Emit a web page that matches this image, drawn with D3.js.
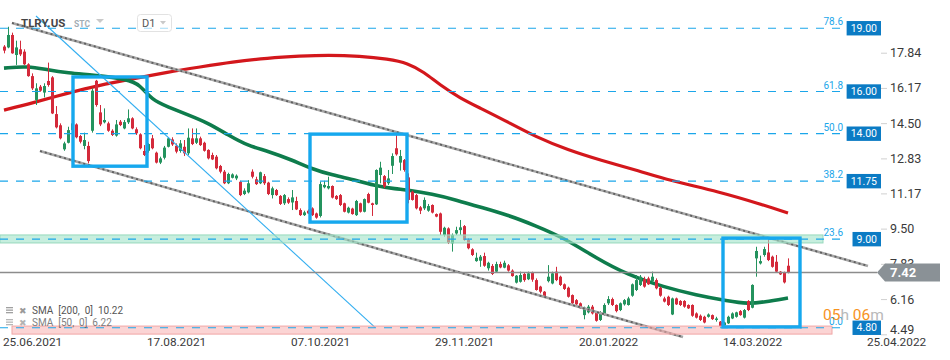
<!DOCTYPE html>
<html>
<head>
<meta charset="utf-8">
<script src="https://cdn.jsdelivr.net/npm/d3@7"></script>
<style>
  body { margin: 0; background: #fff; }
  svg { display: block; font-family: Roboto, "Noto Sans", sans-serif; }
</style>
</head>
<body>
<div class="chart"></div>
<script>
// daily candles, [open, high, low, close]
const ohlc = [
  [18.13,18.20,17.81,17.94],[18.09,19.07,18.05,18.68],[18.68,18.79,17.79,17.81],[17.73,18.41,17.26,18.09],
  [18.00,18.41,17.68,17.76],[17.89,18.00,17.26,17.29],[17.29,17.34,16.70,16.73],[16.73,16.86,16.07,16.15],
  [15.60,16.39,15.36,16.15],[16.23,16.31,15.99,16.04],[15.95,16.39,15.72,16.26],[16.50,17.37,16.23,16.31],
  [16.67,16.73,14.93,14.96],[14.93,15.31,14.25,14.30],[14.40,14.49,13.73,13.78],[13.26,13.62,13.19,13.54],
  [13.57,14.33,13.54,14.17],[14.17,14.57,14.09,14.49],[14.44,14.49,13.78,13.83],[13.89,13.94,13.54,13.62],
  [13.42,14.05,13.26,13.70],[13.42,13.62,12.59,12.70],[14.14,16.15,14.05,16.04],[16.51,16.55,15.28,15.36],
  [15.01,15.36,14.36,14.44],[14.54,15.20,14.49,14.65],[14.49,14.57,14.09,14.14],[14.14,14.21,13.89,13.94],
  [13.91,14.65,13.86,14.44],[14.57,14.65,14.36,14.41],[14.25,14.65,14.21,14.55],[14.54,15.15,14.46,14.73],
  [14.73,14.78,14.21,14.25],[14.21,14.30,13.94,14.02],[13.97,14.02,13.26,13.31],[13.18,13.46,12.94,12.99],
  [13.19,13.55,13.10,13.51],[13.78,13.94,13.26,13.31],[13.10,13.15,12.59,12.63],[12.63,12.91,12.56,12.83],
  [12.86,13.42,12.78,13.34],[13.38,13.83,13.35,13.78],[13.73,13.83,13.42,13.49],[13.43,13.54,13.07,13.15],
  [13.18,13.70,13.10,13.54],[13.38,13.70,12.94,13.07],[13.07,14.25,12.99,13.81],[13.78,14.25,13.46,13.51],
  [13.57,14.25,13.51,13.78],[13.78,13.86,13.42,13.46],[13.57,13.62,13.15,13.19],[13.23,13.26,12.78,12.83],
  [12.99,13.10,12.75,12.78],[12.91,12.99,12.31,12.36],[12.47,12.52,12.12,12.20],[12.20,12.28,11.61,11.65],
  [11.65,12.15,11.61,12.09],[11.91,12.12,11.88,12.07],[11.88,12.07,11.80,12.01],[11.72,11.77,11.04,11.09],
  [11.14,11.41,11.09,11.30],[11.22,11.80,11.17,11.65],[12.20,12.31,11.88,11.96],[11.84,11.96,11.57,11.61],
  [11.65,12.20,11.61,12.17],[11.99,12.09,11.57,11.65],[11.68,11.72,11.09,11.14],[11.09,11.49,10.93,11.41],
  [11.33,11.38,11.05,11.09],[11.05,11.09,10.62,10.67],[10.70,11.14,10.62,11.09],[10.90,10.98,10.67,10.73],
  [10.74,11.33,10.38,10.98],[10.81,11.01,10.38,10.41],[10.38,10.46,10.10,10.14],[10.14,10.35,10.10,10.27],
  [10.35,10.41,10.19,10.22],[10.46,10.51,10.10,10.14],[10.22,10.26,9.97,10.02],[10.10,11.73,10.03,11.61],
  [11.46,11.77,11.41,11.57],[11.41,11.96,11.36,11.52],[11.52,11.55,10.93,10.97],[11.05,11.09,10.86,10.90],
  [11.09,11.14,10.57,10.62],[10.70,10.73,10.27,10.30],[10.26,10.54,10.22,10.49],[10.45,10.49,10.16,10.19],
  [10.14,10.86,10.10,10.81],[10.70,10.73,10.26,10.30],[10.30,10.93,10.27,10.90],[11.14,11.20,10.70,10.73],
  [10.70,10.73,10.10,10.62],[10.65,12.31,10.62,12.28],[12.04,12.67,11.65,12.39],[11.99,12.04,11.41,11.49],
  [11.65,12.28,11.57,11.88],[12.48,13.07,12.09,12.94],[13.31,13.94,12.96,13.02],[12.63,13.23,12.25,12.94],
  [12.75,12.80,12.20,12.28],[11.93,12.12,10.70,10.86],[11.25,11.30,10.83,10.86],[11.09,11.14,10.41,10.46],
  [10.51,10.57,10.19,10.35],[10.46,10.98,10.38,10.86],[10.35,10.67,10.30,10.57],[10.62,10.65,10.22,10.26],
  [10.19,10.22,10.04,10.07],[10.22,10.26,9.20,9.35],[9.20,9.59,9.12,9.54],[9.51,9.56,8.77,8.83],
  [8.80,9.27,8.41,9.20],[9.27,9.59,9.20,9.43],[9.43,9.91,9.20,9.56],[9.62,9.67,8.93,8.96],
  [8.96,9.04,8.52,8.57],[8.52,8.57,8.20,8.25],[7.96,8.36,7.93,8.12],[7.98,8.25,7.69,8.17],
  [8.20,8.36,7.69,7.74],[7.62,7.93,7.51,7.88],[7.73,7.82,7.30,7.35],[7.46,7.93,7.41,7.82],
  [7.82,7.93,7.62,7.66],[7.65,7.98,7.62,7.88],[7.76,7.82,7.46,7.51],[7.51,7.57,7.22,7.25],
  [6.94,7.30,6.90,7.27],[6.98,7.46,6.94,7.30],[7.35,7.41,6.98,7.06],[7.10,7.46,7.06,7.38],
  [7.40,7.46,6.98,7.08],[7.06,7.14,6.56,6.59],[6.75,6.79,6.43,6.51],[6.51,6.54,6.27,6.30],
  [7.01,7.77,6.95,7.22],[6.90,7.46,6.86,7.38],[7.46,7.69,7.01,7.06],[7.22,7.27,6.78,6.83],
  [6.86,6.90,6.59,6.64],[6.70,6.75,6.23,6.27],[6.35,6.38,5.91,5.96],[6.11,6.16,5.88,5.91],
  [5.96,6.00,5.69,5.72],[5.40,5.80,5.20,5.75],[5.53,5.88,5.48,5.80],[5.80,5.88,5.43,5.48],
  [5.53,5.59,5.09,5.13],[5.17,5.59,5.12,5.53],[5.43,5.96,5.37,5.88],[5.96,6.30,5.88,6.16],
  [6.16,6.23,5.83,5.88],[5.88,5.91,5.53,5.59],[5.64,6.00,5.59,5.96],[5.91,6.16,5.85,6.11],
  [5.88,6.27,5.85,6.19],[6.32,6.90,6.27,6.86],[6.59,7.30,6.54,7.06],[6.83,7.30,6.78,7.22],
  [7.11,7.22,6.70,6.75],[7.14,7.22,6.83,6.86],[7.01,7.46,6.95,7.22],[7.06,7.14,6.62,6.67],
  [6.70,6.75,6.27,6.32],[6.19,6.27,6.00,6.04],[6.27,6.32,5.83,5.88],[5.43,6.23,5.40,6.19],
  [6.19,6.23,5.88,5.91],[6.07,6.11,5.83,5.88],[6.07,6.11,5.75,5.80],[5.88,5.91,5.69,5.72],
  [5.88,5.91,5.32,5.37],[5.48,5.53,5.24,5.28],[5.37,5.43,5.12,5.17],[5.32,5.37,5.01,5.05],
  [5.32,5.48,5.28,5.43],[5.40,5.43,5.17,5.21],[5.17,5.32,5.09,5.24],[5.09,5.12,4.85,4.88],
  [4.90,5.09,4.85,5.05],[5.01,5.37,4.98,5.32],[5.24,5.53,5.21,5.48],[5.32,5.56,5.28,5.53],
  [5.59,5.64,5.37,5.40],[5.28,5.69,5.24,5.64],[6.07,6.11,5.59,5.64],[5.75,6.86,5.72,6.83],
  [8.09,8.64,7.22,8.44],[7.85,8.22,7.80,7.96],[8.25,8.64,8.17,8.53],[8.37,8.96,7.96,8.01],
  [8.17,8.22,7.65,7.69],[7.93,8.25,7.43,7.46],[7.46,7.49,7.30,7.33],[7.43,7.46,6.90,6.95],
  [7.74,8.09,7.38,7.42]
];

// moving averages: [bar index, value]
const sma50 = [
  [0,17.11],[6,17.21],[11,17.02],[16,16.88],[22,16.78],[31,16.59],[34,16.31],[37,15.60],
  [41,15.27],[46,14.89],[51,14.51],[56,13.94],[61,13.42],[66,13.18],[72,12.75],[77,12.33],
  [82,12.04],[88,11.80],[93,11.52],[98,11.38],[101,11.33],[107,11.14],[113,10.86],[118,10.57],
  [126,10.15],[133,9.63],[140,9.06],[148,8.11],[156,7.30],[165,6.73],[173,6.35],[181,6.07],
  [186,5.93],[190,6.02],[196,6.21]
];
const sma200 = [
  [0,15.12],[7,15.45],[16,15.93],[24,16.31],[32,16.59],[41,16.92],[49,17.16],[57,17.40],
  [66,17.59],[74,17.68],[81,17.73],[89,17.68],[96,17.54],[101,17.35],[105,16.92],[109,16.31],
  [114,15.69],[119,15.22],[125,14.65],[133,13.84],[141,13.23],[149,12.75],[159,12.23],[166,11.80],
  [179,11.24],[189,10.67],[196,10.24]
];

// fibonacci retracement
const fibRatios = ["78.6", "61.8", "50.0", "38.2", "23.6", "0.0"];
const fibPrices = [19.00, 16.00, 14.00, 11.75, 9.00, 4.80];

// axes
const yTicks = [4.49, 6.16, 7.83, 9.50, 11.17, 12.83, 14.50, 16.17, 17.84];
const xTickIdx = [7, 43, 79, 115, 151, 187, 223];
const xTickLabels = ["25.06.2021", "17.08.2021", "07.10.2021", "29.11.2021", "20.01.2022", "14.03.2022", "25.04.2022"];

// drawings: bar index / price
const trendLines = [
  { x1: 2, p1: 19.25, x2: 216, p2: 7.73 },
  { x1: 9, p1: 13.18, x2: 169.75, p2: 4.36 }
];
const steepLine = { x1: 8, p1: 19.58, x2: 92.75, p2: 4.82 };
const boxes = [
  { x1: 17.25, x2: 35.75, hi: 16.69, lo: 12.46 },
  { x1: 76.5, x2: 100.75, hi: 13.98, lo: 9.81 },
  { x1: 179.75, x2: 199, hi: 9.05, lo: 4.84 }
];
const zones = [
  { x1: -1, x2: 204.75, hi: 9.20, lo: 8.82, fill: "rgba(160,226,200,0.6)", stroke: "#98d9bd" },
  { x1: 2, x2: 207, hi: 4.88, lo: 4.50, fill: "rgba(247,176,176,0.55)", stroke: "#f0a6a6" }
];
const lastPrice = 7.42;
const legendRows = ["SMA  [200,  0]  10.22", "SMA  [50,  0]  6.22"];

const width = 950, height = 360;
const svg = d3.select(".chart").append("svg")
  .attr("width", width).attr("height", height);

const x = d3.scaleLinear().domain([0, 196]).range([4, 788]);
const y = d3.scaleLinear().domain([4.49, 17.84]).range([334.3, 52.7]);

const green = "#24935e", red = "#d42a3b", fibBlue = "#1ba6ea";

// sma lines
const line = d3.line().x(d => x(d[0])).y(d => y(d[1])).curve(d3.curveBasis);
svg.append("path").datum(sma200).attr("d", line)
  .attr("fill", "none").attr("stroke", "#d3171c").attr("stroke-width", 3.2);
svg.append("path").datum(sma50).attr("d", line)
  .attr("fill", "none").attr("stroke", "#0e7c4c").attr("stroke-width", 3.6);

// candles
const candle = svg.append("g").selectAll("g").data(ohlc).join("g");
candle.append("line")
  .attr("x1", (d, i) => Math.round(x(i)) + 0.5).attr("x2", (d, i) => Math.round(x(i)) + 0.5)
  .attr("y1", d => y(d[1])).attr("y2", d => y(d[2]))
  .attr("stroke", d => d[3] >= d[0] ? green : red).attr("stroke-width", 1);
candle.append("rect")
  .attr("x", (d, i) => Math.round(x(i)) - 1)
  .attr("width", 3)
  .attr("y", d => y(Math.max(d[0], d[3])))
  .attr("height", d => Math.max(1, Math.abs(y(d[0]) - y(d[3]))))
  .attr("fill", d => d[3] >= d[0] ? green : red);

// trend channel
trendLines.forEach(t => {
  svg.append("line").attr("x1", x(t.x1)).attr("y1", y(t.p1)).attr("x2", x(t.x2)).attr("y2", y(t.p2))
    .attr("stroke", "#a6a6a6").attr("stroke-width", 2.6);
  svg.append("line").attr("x1", x(t.x1)).attr("y1", y(t.p1)).attr("x2", x(t.x2)).attr("y2", y(t.p2))
    .attr("stroke", "#5e5e5e").attr("stroke-width", 1.8).attr("stroke-dasharray", "2,3");
});
svg.append("line")
  .attr("x1", x(steepLine.x1)).attr("y1", y(steepLine.p1))
  .attr("x2", x(steepLine.x2)).attr("y2", y(steepLine.p2))
  .attr("stroke", "#33aef0").attr("stroke-width", 1.1);

// zones
zones.forEach(z => {
  svg.append("rect")
    .attr("x", x(z.x1)).attr("width", x(z.x2) - x(z.x1))
    .attr("y", y(z.hi)).attr("height", y(z.lo) - y(z.hi))
    .attr("fill", z.fill).attr("stroke", z.stroke).attr("stroke-width", 1);
});

// last price line
svg.append("line").attr("x1", 0).attr("x2", 877)
  .attr("y1", y(lastPrice)).attr("y2", y(lastPrice))
  .attr("stroke", "#8c8c8c").attr("stroke-width", 1.3);

// fib levels
const fibG = svg.append("g");
fibPrices.forEach((p, i) => {
  fibG.append("line").attr("x1", 0).attr("x2", 843)
    .attr("y1", y(p)).attr("y2", y(p))
    .attr("stroke", fibBlue).attr("stroke-width", 1.2).attr("stroke-dasharray", "8,8");
  fibG.append("text").attr("x", 843).attr("y", y(p) - 3)
    .attr("text-anchor", "end").attr("font-size", "10px").attr("fill", fibBlue)
    .text(fibRatios[i]);
  const t = fibG.append("text").attr("x", 877).attr("y", y(p) + 3.6)
    .attr("text-anchor", "end").attr("font-size", "10.5px").attr("fill", "#fff")
    .text(p.toFixed(2));
  const w = t.node().getComputedTextLength();
  fibG.insert("rect", "text:last-child")
    .attr("x", 881 - w - 8).attr("width", w + 8)
    .attr("y", y(p) - 7.2).attr("height", 14.4)
    .attr("fill", "#0b7bc4");
});

// boxes
boxes.forEach(b => {
  svg.append("rect")
    .attr("x", x(b.x1)).attr("width", x(b.x2) - x(b.x1))
    .attr("y", y(b.hi)).attr("height", y(b.lo) - y(b.hi))
    .attr("fill", "none").attr("stroke", "#16a8ee").attr("stroke-width", 3.4);
});

// y axis
const yAxis = svg.append("g").attr("transform", "translate(881,0)")
  .call(d3.axisRight(y).tickValues(yTicks).tickSize(6).tickPadding(3).tickFormat(d3.format(".2f")));
yAxis.select(".domain").remove();
yAxis.selectAll(".tick line").attr("stroke", "#d0d0d0");
yAxis.selectAll(".tick text").attr("fill", "#3a3a3a").attr("font-size", "12.5px")
  .attr("font-family", "Roboto, sans-serif")
  .attr("dy", d => d === 4.49 ? "-0.1em" : "0.32em");

// x axis
const xAxis = svg.append("g").attr("transform", "translate(0,330)")
  .call(d3.axisBottom(x).tickValues(xTickIdx).tickSize(0).tickPadding(8)
    .tickFormat((d, i) => xTickLabels[i]));
xAxis.select(".domain").remove();
xAxis.selectAll(".tick text").attr("fill", "#3a3a3a").attr("font-size", "11.8px")
  .attr("font-family", "Roboto, sans-serif");

// last price tag
const ly = y(lastPrice);
svg.append("path")
  .attr("d", `M877,${ly} L885,${ly - 9} L940,${ly - 9} L940,${ly + 9} L885,${ly + 9} Z`)
  .attr("fill", "#8a9196");
svg.append("text").attr("x", 890).attr("y", ly + 4.5)
  .attr("font-size", "13px").attr("font-weight", "bold").attr("fill", "#fff")
  .text(lastPrice.toFixed(2));

// countdown
const cd = svg.append("text").attr("x", 823).attr("y", 320).attr("font-size", "15.5px");
cd.append("tspan").attr("fill", "#f7931e").text("05");
cd.append("tspan").attr("fill", "#b9b9b9").text("h ");
cd.append("tspan").attr("fill", "#f7931e").text("06");
cd.append("tspan").attr("fill", "#b9b9b9").text("m");

// legend
legendRows.forEach((r, i) => {
  const ry = 313 + i * 12;
  const g = svg.append("g").attr("opacity", i === 1 ? 0.75 : 1);
  [0, 2.5, 5].forEach(o => g.append("rect").attr("x", 6).attr("y", ry - 6 + o).attr("width", 7)
    .attr("height", 1.3).attr("fill", "#a0a0a0"));
  g.append("text").attr("x", 19).attr("y", ry + 0.5).attr("font-size", "9px")
    .attr("font-family", "DejaVu Sans, sans-serif").attr("fill", "#9a9a9a").text("\u2716");
  g.append("text").attr("x", 32).attr("y", ry + 1).attr("font-size", "10px")
    .attr("fill", "#555").attr("xml:space", "preserve").style("white-space", "pre").text(r);
});

// header
svg.append("text").attr("x", 21).attr("y", 27).attr("font-size", "11.5px")
  .attr("font-weight", "bold").attr("fill", "#454545").text("TLRY.US");
svg.append("text").attr("x", 74).attr("y", 27).attr("font-size", "8.5px")
  .attr("font-weight", "bold").attr("fill", "#a3adb5").text("STC");
svg.append("path").attr("d", "M96,19 L104,19 L100,23 Z").attr("fill", "#c9c9c9");
svg.append("rect").attr("x", 137.5).attr("y", 14.5).attr("width", 34).attr("height", 17)
  .attr("rx", 3).attr("fill", "#fff").attr("fill-opacity", 0.6).attr("stroke", "#e2e2e2");
svg.append("text").attr("x", 142).attr("y", 27).attr("font-size", "11px").attr("fill", "#555").text("D1");
svg.append("path").attr("d", "M160,21 L166,21 L163,24.5 Z").attr("fill", "#c9c9c9");
</script>
</body>
</html>
